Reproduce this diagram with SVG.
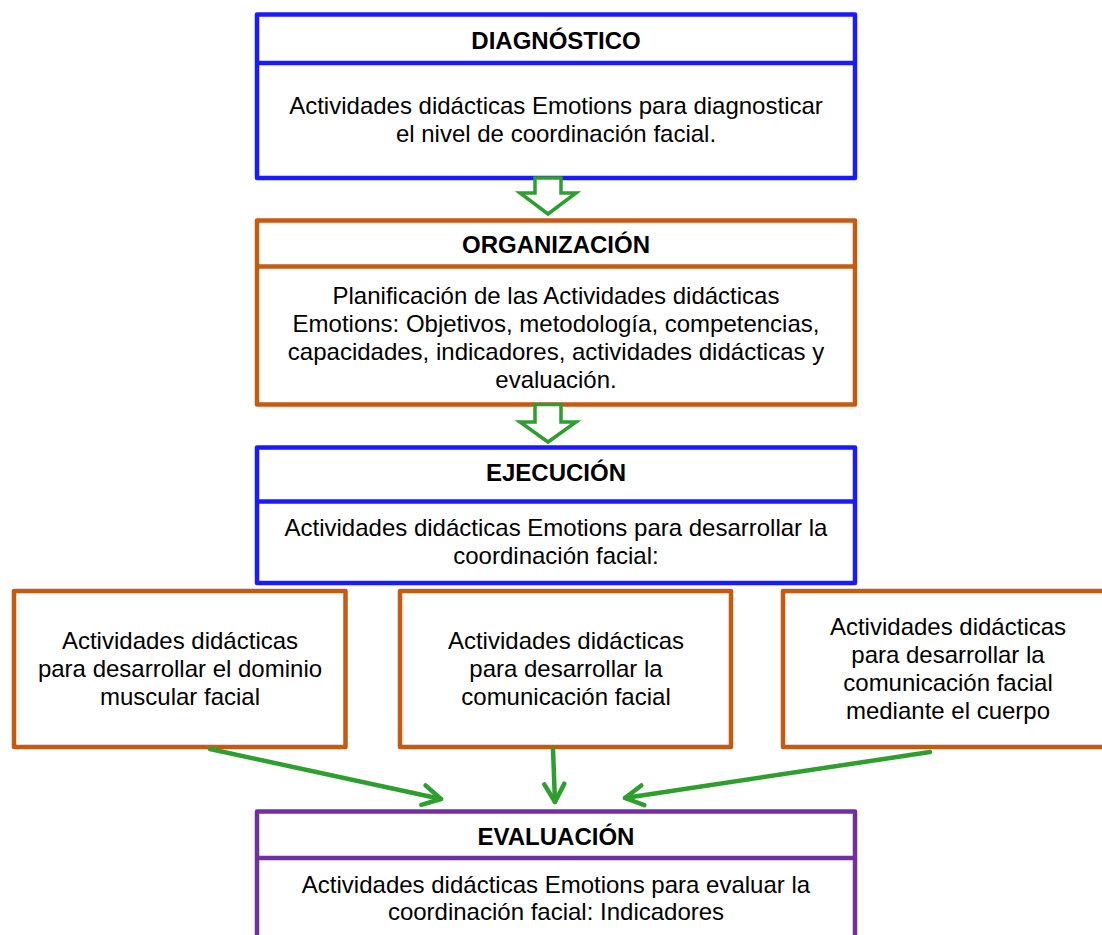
<svg xmlns="http://www.w3.org/2000/svg" width="1102" height="935" viewBox="0 0 1102 935">
<style>
.box{fill:#ffffff;stroke-width:4.5;stroke-linejoin:round}
.blue{stroke:#1a1aff}
.orange{stroke:#c55a11}
.purple{stroke:#7030a0}
.div{stroke-width:4.5}
text{font-family:"Liberation Sans",Arial,sans-serif;font-size:24px;fill:#000000;text-anchor:middle}
.h{font-weight:bold}
.hollow{fill:#ffffff;stroke:#2e9e2e;stroke-width:3.5;stroke-linejoin:miter}
.conn{stroke:#2e9e2e;stroke-width:4.5;stroke-linecap:round;fill:none}
</style>
<defs>
<marker id="vhead" markerUnits="userSpaceOnUse" markerWidth="26" markerHeight="26" viewBox="0 0 26 26" refX="21" refY="13" orient="auto">
<path d="M3,3 L21,13 L3,23" fill="none" stroke="#2e9e2e" stroke-width="4.5" stroke-linecap="round" stroke-linejoin="round"/>
</marker>
</defs>

<g id="diagnostico">
<rect class="box blue" x="257" y="14.5" width="598" height="163.5"/>
<line class="div blue" x1="257" y1="63" x2="855" y2="63"/>
<text class="h" x="556" y="48.5">DIAGNÓSTICO</text>
<text x="556" y="114">Actividades didácticas Emotions para diagnosticar</text>
<text x="556" y="142">el nivel de coordinación facial.</text>
</g>

<g id="organizacion">
<rect class="box orange" x="257" y="220.5" width="598" height="184"/>
<line class="div orange" x1="257" y1="266.5" x2="855" y2="266.5"/>
<text class="h" x="556" y="253">ORGANIZACIÓN</text>
<text x="556" y="304">Planificación de las Actividades didácticas</text>
<text x="556" y="332">Emotions: Objetivos, metodología, competencias,</text>
<text x="556" y="360">capacidades, indicadores, actividades didácticas y</text>
<text x="556" y="388">evaluación.</text>
</g>

<g id="ejecucion">
<rect class="box blue" x="257" y="447.5" width="598" height="135.5"/>
<line class="div blue" x1="257" y1="501.5" x2="855" y2="501.5"/>
<text class="h" x="556" y="481">EJECUCIÓN</text>
<text x="556" y="536">Actividades didácticas Emotions para desarrollar la</text>
<text x="556" y="564">coordinación facial:</text>
</g>

<g id="dominio">
<rect class="box orange" x="14" y="591" width="331.5" height="156"/>
<text x="180" y="649">Actividades didácticas</text>
<text x="180" y="677">para desarrollar el dominio</text>
<text x="180" y="705">muscular facial</text>
</g>

<g id="comunicacion">
<rect class="box orange" x="400" y="591" width="331" height="156"/>
<text x="566" y="649">Actividades didácticas</text>
<text x="566" y="677">para desarrollar la</text>
<text x="566" y="705">comunicación facial</text>
</g>

<g id="cuerpo">
<rect class="box orange" x="783" y="591" width="331" height="156"/>
<text x="948" y="635">Actividades didácticas</text>
<text x="948" y="663">para desarrollar la</text>
<text x="948" y="691">comunicación facial</text>
<text x="948" y="719">mediante el cuerpo</text>
</g>

<g id="evaluacion">
<rect class="box purple" x="257" y="811.5" width="598" height="150"/>
<line class="div purple" x1="257" y1="858" x2="855" y2="858"/>
<text class="h" x="556" y="845">EVALUACIÓN</text>
<text x="556" y="893">Actividades didácticas Emotions para evaluar la</text>
<text x="556" y="920">coordinación facial: Indicadores</text>
</g>

<g id="connectors">
<polygon class="hollow" points="535,178 561,178 561,193 576,193 548,214 520,193 535,193"/>
<polygon class="hollow" points="535,404.5 561,404.5 561,422 576,422 548,442 520,422 535,422"/>
<line class="conn" x1="210" y1="749" x2="441" y2="799" marker-end="url(#vhead)"/>
<line class="conn" x1="553" y1="749" x2="555" y2="802" marker-end="url(#vhead)"/>
<line class="conn" x1="930" y1="752" x2="625" y2="798" marker-end="url(#vhead)"/>
</g>
</svg>
